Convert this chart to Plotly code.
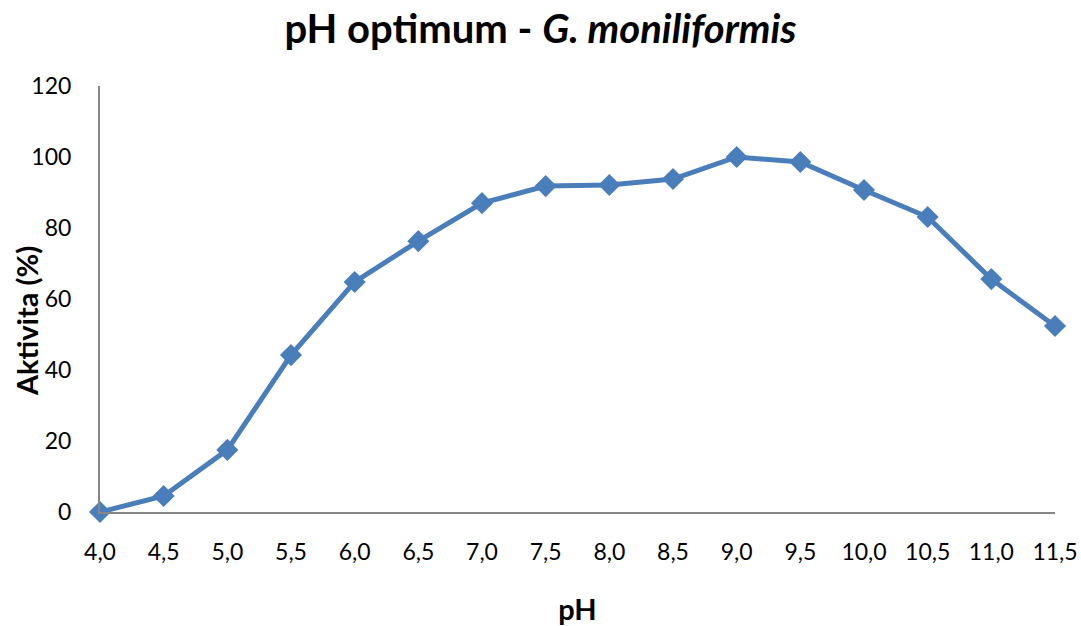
import plotly.graph_objects as go

ph = [4.0, 4.5, 5.0, 5.5, 6.0, 6.5, 7.0, 7.5, 8.0, 8.5, 9.0, 9.5, 10.0, 10.5, 11.0, 11.5]
activity = [0, 4.5, 17.5, 44.2, 64.8, 76.3, 87.0, 91.8, 92.1, 93.8, 100.0, 98.6, 90.7, 83.1, 65.6, 52.4]
tick_labels = [f"{v:.1f}".replace(".", ",") for v in ph]
y_ticks = [0, 20, 40, 60, 80, 100, 120]

FONT = "Lato"
ML, MR, MT, MB = 100, 26, 86, 114
W, H = 1081, 626
plot_w = W - ML - MR
plot_h = H - MT - MB

fig = go.Figure()
fig.add_trace(go.Scatter(
    x=ph, y=activity, mode="lines+markers",
    line=dict(color="#4A7EBB", width=5),
    marker=dict(symbol="diamond", size=17, color="#4A7EBB"),
    cliponaxis=False, showlegend=False,
))
fig.update_layout(
    width=W, height=H,
    margin=dict(l=ML, r=MR, t=MT, b=MB),
    paper_bgcolor="white", plot_bgcolor="white",
    font=dict(family=FONT, color="black", size=23),
    title=dict(text="<b>pH optimum - <i>G. moniliformis</i></b>", x=0.5, xanchor="center",
               y=0.953, yanchor="middle", font=dict(size=40, family=FONT)),
    annotations=[dict(
        text="<b>Aktivita (%)</b>", textangle=-90, showarrow=False,
        xref="paper", yref="paper", x=(26 - ML) / plot_w, y=(H - MB - 321) / plot_h,
        xanchor="center", yanchor="middle", font=dict(size=29, family=FONT),
    )],
)
fig.update_xaxes(
    range=[4.0, 11.5], tickvals=ph, ticktext=tick_labels, automargin=False,
    showgrid=False, zeroline=False, showline=True, linecolor="#868686", linewidth=2,
    ticks="", ticklabelstandoff=18,
    title=dict(text="<b>pH</b>", font=dict(size=29), standoff=38),
)
fig.update_yaxes(
    range=[0, 120], tickvals=y_ticks, automargin=False,
    showgrid=False, zeroline=False, showline=True, linecolor="#868686", linewidth=2,
    ticks="", ticklabelstandoff=22,
)
fig.write_html("out.html")
